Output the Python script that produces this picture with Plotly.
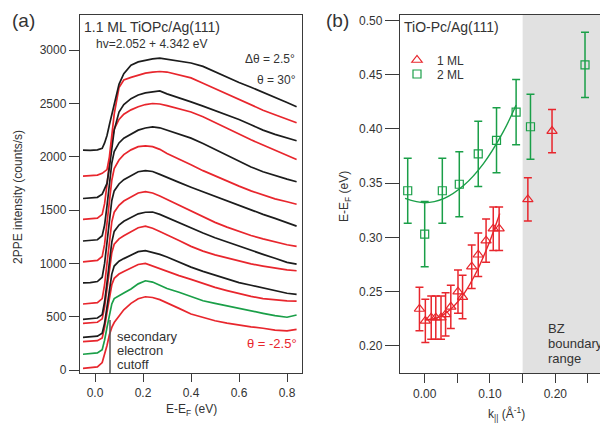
import plotly.graph_objects as go

# ---------------- Panel (a) data: 2PPE spectra ----------------
energy = [-0.05, -0.02, 0.01, 0.03, 0.04, 0.05, 0.06, 0.07, 0.08, 0.10, 0.12, 0.15, 0.18, 0.21,
          0.24, 0.27, 0.30, 0.35, 0.40, 0.45, 0.50, 0.55, 0.60, 0.65, 0.70, 0.75, 0.80, 0.84]

spec_m2p5 = [16, 20, 30, 70, 140, 230, 330, 400, 445, 500, 565, 625, 668, 687, 680, 660, 632, 578, 525, 492, 462, 440, 420, 405, 392, 375, 368, 381]
spec_0 = [148, 152, 160, 190, 280, 400, 520, 620, 670, 700, 722, 760, 808, 837, 825, 795, 765, 730, 688, 650, 625, 600, 580, 555, 532, 510, 495, 516]
spec_2p5 = [266, 268, 275, 300, 400, 540, 690, 800, 860, 900, 925, 960, 990, 1000, 975, 950, 925, 885, 850, 810, 775, 745, 715, 690, 670, 657, 648, 647]
spec_5 = [307, 310, 318, 345, 440, 590, 760, 900, 975, 1020, 1045, 1080, 1110, 1119, 1105, 1085, 1060, 1010, 965, 925, 890, 855, 820, 795, 770, 745, 720, 710]
spec_7p5 = [438, 440, 448, 480, 590, 760, 950, 1100, 1180, 1230, 1260, 1300, 1335, 1350, 1330, 1300, 1270, 1215, 1160, 1115, 1080, 1050, 1020, 995, 975, 955, 940, 931]
spec_10 = [475, 478, 488, 520, 640, 820, 1030, 1200, 1300, 1360, 1395, 1430, 1465, 1480, 1482, 1460, 1430, 1380, 1330, 1285, 1240, 1200, 1160, 1120, 1085, 1048, 1010, 994]
spec_12p5 = [619, 622, 632, 670, 800, 1000, 1220, 1390, 1480, 1545, 1585, 1625, 1660, 1673, 1660, 1632, 1600, 1545, 1490, 1435, 1385, 1340, 1300, 1262, 1230, 1200, 1175, 1160]
spec_15 = [818, 820, 830, 870, 1000, 1200, 1420, 1590, 1680, 1745, 1785, 1825, 1860, 1870, 1862, 1835, 1805, 1760, 1715, 1672, 1630, 1588, 1545, 1502, 1460, 1422, 1385, 1350]
spec_17p5 = [1015, 1018, 1028, 1065, 1180, 1380, 1600, 1780, 1890, 1970, 2020, 2065, 2095, 2103, 2095, 2070, 2030, 1980, 1925, 1870, 1820, 1770, 1725, 1680, 1640, 1605, 1578, 1555]
spec_20 = [1210, 1213, 1222, 1260, 1360, 1540, 1760, 1940, 2050, 2130, 2175, 2215, 2250, 2270, 2281, 2272, 2250, 2215, 2175, 2125, 2070, 2015, 1960, 1905, 1860, 1822, 1790, 1766]
spec_22p5 = [1413, 1416, 1425, 1460, 1560, 1740, 1960, 2140, 2260, 2350, 2400, 2440, 2470, 2490, 2500, 2495, 2480, 2450, 2420, 2375, 2320, 2265, 2210, 2160, 2110, 2060, 2015, 1975]
spec_25 = [1609, 1612, 1620, 1650, 1700, 1750, 1900, 2080, 2250, 2420, 2490, 2545, 2580, 2600, 2612, 2618, 2590, 2555, 2515, 2475, 2435, 2395, 2350, 2300, 2250, 2210, 2178, 2150]
spec_27p5 = [1818, 1820, 1828, 1845, 1860, 1880, 2000, 2200, 2400, 2650, 2720, 2745, 2765, 2785, 2795, 2800, 2795, 2770, 2740, 2690, 2640, 2590, 2540, 2490, 2437, 2395, 2355, 2320]
spec_30 = [2062, 2060, 2065, 2080, 2130, 2200, 2300, 2400, 2500, 2680, 2780, 2860, 2890, 2905, 2918, 2925, 2915, 2900, 2880, 2848, 2797, 2745, 2697, 2652, 2607, 2560, 2510, 2470]

spectra = [spec_m2p5, spec_0, spec_2p5, spec_5, spec_7p5, spec_10, spec_12p5, spec_15,
           spec_17p5, spec_20, spec_22p5, spec_25, spec_27p5, spec_30]
angles = [-2.5, 0, 2.5, 5, 7.5, 10, 12.5, 15, 17.5, 20, 22.5, 25, 27.5, 30]

cutoff_E = 0.0625
cutoff_top = 470

a_xticks = [0.0, 0.2, 0.4, 0.6, 0.8]
a_yticks = [0, 500, 1000, 1500, 2000, 2500, 3000]

# ---------------- Panel (b) data: dispersion ----------------
k_1ml = [-0.008, 0.001, 0.010, 0.017, 0.025, 0.032, 0.040, 0.051, 0.058, 0.072, 0.082, 0.094, 0.105, 0.114, 0.158, 0.195]
E_1ml = [0.234, 0.223, 0.226, 0.226, 0.226, 0.229, 0.236, 0.250, 0.245, 0.273, 0.284, 0.297, 0.308, 0.308, 0.335, 0.398]
err_1ml = 0.02

k_2ml = [-0.026, 0.000, 0.027, 0.053, 0.082, 0.110, 0.140, 0.162, 0.2455]
E_2ml = [0.343, 0.303, 0.343, 0.349, 0.377, 0.3895, 0.4155, 0.402, 0.459]
err_2ml = 0.03

fit_k_1ml = [0.0, 0.02, 0.04, 0.06, 0.08, 0.10, 0.115]
fit_E_1ml = [0.224, 0.226, 0.234, 0.248, 0.269, 0.297, 0.322]
fit_k_2ml = [-0.03, 0.0, 0.03, 0.06, 0.09, 0.12, 0.14]
fit_E_2ml = [0.336, 0.332, 0.336, 0.348, 0.368, 0.397, 0.422]

bz_start = 0.15
b_xticks = [0.0, 0.05, 0.10, 0.15, 0.20, 0.25]
b_xtext = ["0.00", "", "0.10", "", "0.20", ""]
b_yticks = [0.20, 0.25, 0.30, 0.35, 0.40, 0.45, 0.50]

# ---------------- styling ----------------
# the page adds an 8 px body margin, so the figure is drawn 8 px smaller and
# every layout position below is given in window pixels, then shifted by OFF.
OFF = 8
WIN_W, WIN_H = 608, 431
W, H = WIN_W - OFF, WIN_H - OFF
FONT = "Liberation Sans, Arial, Helvetica, sans-serif"
TXT = "#333333"
BLACK = "#1c1c1c"
RED = "#e8262d"
GREEN = "#1a9f48"
AXC = "#3a3a3a"


def px(x):
    return (x - OFF) / W


def py(y):
    return 1 - (y - OFF) / H


fig = go.Figure()

for ang, spec in zip(angles, spectra):
    if ang == 0:
        col = GREEN
    elif int(round(ang / 2.5)) % 2 == 1 or ang == -2.5:
        col = RED
    else:
        col = BLACK
    fig.add_trace(go.Scatter(x=energy, y=spec, mode="lines",
                             line=dict(color=col, width=1.7),
                             xaxis="x", yaxis="y", showlegend=False,
                             name=f"θ = {ang}°"))

# panel b
fig.add_trace(go.Scatter(x=fit_k_2ml, y=fit_E_2ml, mode="lines", line=dict(color=GREEN, width=1.4, shape="spline"),
                         xaxis="x2", yaxis="y2", showlegend=False))
fig.add_trace(go.Scatter(x=fit_k_1ml, y=fit_E_1ml, mode="lines", line=dict(color=RED, width=1.4, shape="spline"),
                         xaxis="x2", yaxis="y2", showlegend=False))
fig.add_trace(go.Scatter(x=k_1ml, y=E_1ml, mode="markers", name="1 ML", legend="legend",
                         marker=dict(symbol="triangle-up-open", size=9, color=RED, line=dict(width=1.2, color=RED)),
                         error_y=dict(type="constant", value=err_1ml, color=RED, thickness=1.5, width=4),
                         xaxis="x2", yaxis="y2"))
fig.add_trace(go.Scatter(x=k_2ml, y=E_2ml, mode="markers", name="2 ML", legend="legend2",
                         marker=dict(symbol="square-open", size=8, color=GREEN, line=dict(width=1.2, color=GREEN)),
                         error_y=dict(type="constant", value=err_2ml, color=GREEN, thickness=1.5, width=4),
                         xaxis="x2", yaxis="y2"))

shapes = [
    dict(type="rect", xref="x2", yref="y2 domain", x0=bz_start, x1=1.0, y0=0, y1=1,
         fillcolor="#e1e1e1", line=dict(width=0), layer="below"),
    dict(type="line", xref="x", yref="y", x0=cutoff_E, x1=cutoff_E, y0=-28, y1=cutoff_top,
         line=dict(color="#555555", width=1.5)),
]

ann = []


def add_text(text, x, y, size=12, color=TXT, xanchor="left", angle=0, yanchor="middle"):
    ann.append(dict(text=text, x=px(x), y=py(y), xref="paper", yref="paper", showarrow=False,
                    xanchor=xanchor, yanchor=yanchor, textangle=angle,
                    font=dict(family=FONT, size=size, color=color)))


add_text("(a)", 10, 8, size=19, yanchor="top")
add_text("(b)", 324, 8, size=19, yanchor="top")
add_text("1.1 ML TiOPc/Ag(111)", 82, 27, size=14)
add_text("hv=2.052 + 4.342 eV", 94, 44, size=12)
add_text("Δθ = 2.5°", 297, 59, size=12, xanchor="right")
add_text("θ = 30°", 298, 80, size=12, xanchor="right")
add_text("θ = -2.5°", 299, 343, size=13, color=RED, xanchor="right")
add_text("secondary", 115, 336, size=13)
add_text("electron", 115, 350, size=13)
add_text("cutoff", 115, 364, size=13)
add_text("TiO-Pc/Ag(111)", 402, 27, size=14)
add_text("BZ", 546, 328, size=13)
add_text("boundary", 546, 343, size=13)
add_text("range", 546, 358, size=13)
add_text("2PPE intensity (counts/s)", 18, 197, size=12, xanchor="center", angle=-90)
add_text("E-E<sub>F</sub> (eV)", 191, 410, size=12, xanchor="center")
add_text("E-E<sub>F</sub> (eV)", 345, 197, size=12, xanchor="center", angle=-90)
add_text("k<sub>||</sub> (Å<sup>-1</sup>)", 506, 414, size=12, xanchor="center")

ydom = [py(373), py(15)]
common_axis = dict(showgrid=False, zeroline=False, showline=True, linecolor=AXC, linewidth=1.4,
                   ticks="outside", tickcolor=AXC, tickwidth=1.2, automargin=False,
                   tickfont=dict(family=FONT, size=12, color=TXT))

legend_common = dict(xanchor="left", yanchor="middle", bgcolor="rgba(0,0,0,0)",
                     font=dict(family=FONT, size=12, color=TXT))

fig.update_layout(
    width=W, height=H, margin=dict(l=0, r=0, t=0, b=0, autoexpand=False),
    paper_bgcolor="white", plot_bgcolor="white",
    font=dict(family=FONT, size=12, color=TXT),
    xaxis=dict(domain=[px(80), px(302)], anchor="y", range=[-0.0625, 0.8625],
               tickvals=a_xticks, ticktext=[f"{v:.1f}" for v in a_xticks], ticklen=8, mirror=True,
               **common_axis),
    yaxis=dict(domain=ydom, anchor="x", range=[-28, 3330], tickvals=a_yticks, ticklen=10, mirror=True,
               **common_axis),
    xaxis2=dict(domain=[px(400), 1.0], anchor="y2", range=[-0.0378, 0.2807],
                tickvals=b_xticks, ticktext=b_xtext, ticklen=9, mirror=True, **common_axis),
    yaxis2=dict(domain=ydom, anchor="x2", range=[0.175, 0.505], tickvals=b_yticks,
                ticktext=[f"{v:.2f}" for v in b_yticks], ticklen=14, mirror=False, **common_axis),
    showlegend=True,
    legend=dict(x=px(397), y=py(60), **legend_common),
    legend2=dict(x=px(397), y=py(74), **legend_common),
    shapes=shapes, annotations=ann,
)

fig.write_html("out.html")
